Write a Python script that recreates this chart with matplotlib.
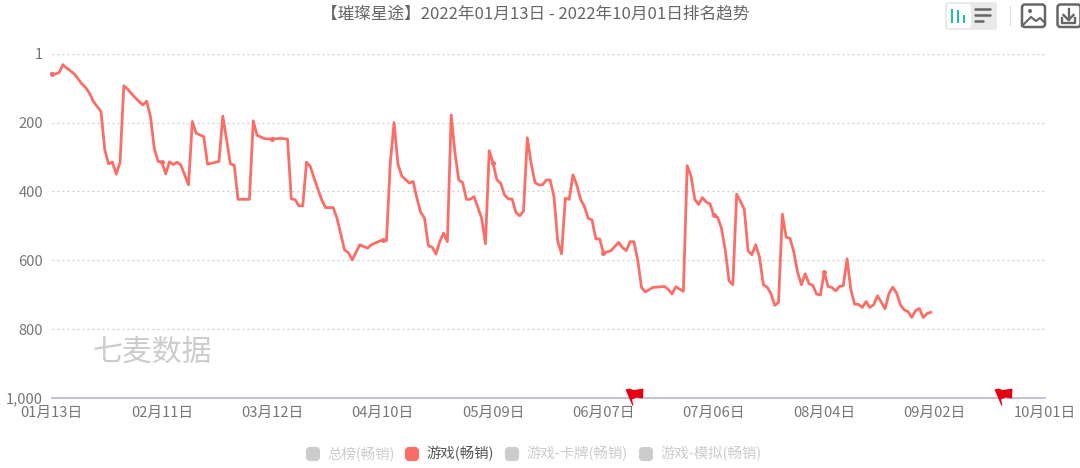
import numpy as np
import matplotlib
matplotlib.use("Agg")
import matplotlib.pyplot as plt
from matplotlib.patches import FancyBboxPatch, Rectangle, Circle
from matplotlib.path import Path

plt.rcParams["font.family"] = ["Noto Sans CJK SC", "DejaVu Sans"]

# days since 01-13, and rank on that day
days = [0, 1, 2, 3, 4, 5, 6, 8, 9, 10, 11, 13, 14, 15, 16, 17, 18, 19, 20, 21, 22, 23, 24, 25, 26, 27, 28, 29,
        30, 31, 32, 33, 34, 36, 37, 38, 40, 41, 44, 45, 47, 48, 49, 52, 53, 54, 56, 58, 60, 62, 63, 64, 65, 66,
        67, 68, 69, 71, 72, 74, 75, 77, 78, 79, 81, 83, 84, 85, 87, 88, 89, 90, 91, 92, 94, 95, 96, 97, 98, 99,
        100, 101, 102, 103, 104, 105, 106, 107, 108, 109, 110, 111, 113, 114, 115, 116, 117, 118, 119, 120,
        121, 122, 123, 124, 125, 126, 127, 128, 129, 130, 131, 132, 133, 134, 135, 136, 137, 138, 139, 140,
        141, 142, 143, 144, 145, 147, 149, 150, 151, 152, 153, 154, 155, 156, 158, 161, 162, 163, 164, 166,
        167, 168, 169, 170, 171, 172, 173, 174, 175, 176, 177, 178, 179, 180, 181, 182, 183, 184, 185, 186,
        187, 188, 189, 190, 191, 192, 193, 194, 195, 196, 197, 198, 199, 200, 201, 202, 203, 204, 205, 206,
        207, 208, 209, 210, 211, 212, 213, 214, 215, 216, 217, 219, 220, 221, 222, 223, 224, 225, 226, 227,
        228, 229, 230, 231]
ranks = [59, 59, 55, 32, 42, 50, 59, 88, 99, 115, 139, 168, 279, 320, 315, 350, 316, 93, 103, 116, 128, 139, 149,
         138, 183, 275, 313, 315, 349, 314, 322, 315, 324, 381, 197, 231, 241, 321, 313, 181, 320, 324, 423, 423,
         195, 237, 247, 248, 246, 248, 422, 424, 442, 442, 315, 328, 362, 425, 447, 447, 478, 570, 578, 599, 555,
         565, 555, 550, 541, 543, 318, 200, 320, 355, 376, 371, 420, 461, 478, 558, 562, 582, 546, 521, 546, 178,
         289, 367, 374, 423, 423, 415, 478, 552, 282, 318, 367, 376, 410, 422, 422, 461, 471, 457, 244, 318, 374,
         381, 381, 367, 367, 415, 546, 581, 420, 423, 352, 381, 423, 444, 478, 483, 538, 538, 579, 572, 548, 563,
         572, 546, 546, 599, 679, 692, 679, 676, 684, 698, 677, 690, 325, 355, 423, 438, 418, 431, 436, 470, 475,
         507, 570, 660, 671, 408, 429, 452, 573, 584, 555, 591, 671, 678, 697, 731, 722, 466, 533, 536, 575, 635,
         671, 639, 668, 673, 698, 701, 634, 676, 679, 689, 676, 674, 596, 686, 728, 728, 737, 720, 737, 729, 703,
         741, 697, 678, 695, 729, 744, 749, 766, 746, 740, 766, 755, 751]

x_ticks = [0, 29, 58, 87, 116, 145, 174, 203, 232, 261]
x_labels = ["01月13日", "02月11日", "03月12日", "04月10日", "05月09日", "06月07日", "07月06日", "08月04日", "09月02日", "10月01日"]
y_ticks = [1, 200, 400, 600, 800, 1000]
y_labels = ["1", "200", "400", "600", "800", "1,000"]
flag_days = [152, 249]
legend_names = ["总榜(畅销)", "游戏(畅销)", "游戏-卡牌(畅销)", "游戏-模拟(畅销)"]
legend_on = [False, True, False, False]
legend_x = [306, 405, 505, 639]

RED = "#fb6e68"
W, H = 1080, 468
fig = plt.figure(figsize=(W / 100, H / 100), dpi=100)
ax = fig.add_axes([51.5 / W, 1 - 398 / H, (1045 - 51.5) / W, (398 - 54) / H])
ax.set_xlim(0, 261)
ax.set_ylim(1000, 1)
ax.set_xticks(x_ticks, x_labels, fontsize=10.6, color="#777777")
ax.set_yticks(y_ticks, y_labels, fontsize=10.6, color="#777777")
ax.tick_params(length=0)
ax.tick_params(axis="x", pad=6)
ax.tick_params(axis="y", pad=6)
for s in ("top", "right", "left"):
    ax.spines[s].set_visible(False)
ax.spines["bottom"].set_color("#b4b8cf")
ax.spines["bottom"].set_linewidth(1.2)
ax.grid(True, axis="y", ls=(0, (1.5, 2.5)), lw=0.9, color="#cccccc")
ax.set_axisbelow(True)

d = np.array(days)
r = np.array(ranks)
ax.plot(d, r, color=RED, lw=2.0, solid_joinstyle="round", clip_on=False)
on_tick = d % 29 == 0
ax.plot(d[on_tick], r[on_tick], "o", color=RED, ms=3.6, mew=0, clip_on=False)

flag = Path([(-5, 9), (-1, 10), (3, 8.5), (7, 9), (13, 10), (12.5, 0), (6, 1), (1.5, -1), (3, -7), (1.8, -7), (-5, 9)])
ax.plot(flag_days, [1000] * len(flag_days), ls="", marker=flag, ms=18.7, color="#e60012", mew=0, clip_on=False, zorder=5)

# overlay in pixel coordinates for the title, legend and toolbar
ov = fig.add_axes([0, 0, 1, 1], zorder=6)
ov.set_xlim(0, W)
ov.set_ylim(H, 0)
ov.axis("off")
ov.patch.set_alpha(0)

ov.text(535, 14, "【璀璨星途】2022年01月13日 - 2022年10月01日排名趋势", ha="center", va="center", fontsize=12, color="#666666")
ov.text(93, 352, "七麦数据", ha="left", va="center", fontsize=21.5, color="#cccccc")

for name, on, lx in zip(legend_names, legend_on, legend_x):
    ov.add_patch(FancyBboxPatch((lx + 1, 448), 12, 12, boxstyle="round,pad=0,rounding_size=3", mutation_aspect=1,
                                fc=RED if on else "#cccccc", ec=RED if on else "#cccccc", lw=1.5))
    ov.text(lx + 21, 453.5, name, ha="left", va="center", fontsize=10.4, color="#555555" if on else "#cccccc")

# toolbar
ov.add_patch(FancyBboxPatch((945, 2), 52, 28, boxstyle="round,pad=0,rounding_size=4", fc="#e9e9e9", ec="none"))
ov.add_patch(FancyBboxPatch((947, 4), 24, 24, boxstyle="round,pad=0,rounding_size=3", fc="white", ec="none"))
for bx, top in zip((952, 958, 964), (9, 10, 15)):
    ov.add_patch(Rectangle((bx - 1.4, top), 2.8, 23 - top, fc="#1fbf9f", ec="none"))
for y0, x1 in zip((9, 15, 21), (990, 990, 983)):
    ov.plot([975, x1], [y0, y0], color="#666666", lw=1.8, solid_capstyle="round")
ov.plot([1009.5, 1009.5], [6, 25], color="#dddddd", lw=0.8)
ink = "#666666"
for ix in (1022, 1057.5):
    ov.add_patch(FancyBboxPatch((ix, 4.5), 23, 22.5, boxstyle="round,pad=0,rounding_size=3", fc="none", ec=ink, lw=1.8))
ov.add_patch(Circle((1030, 11), 2, fc=ink, ec="none"))
ov.plot([1022, 1031, 1036, 1040, 1045], [26, 17, 21, 18, 23], color=ink, lw=1.5)
ov.plot([1068.5, 1068.5], [9, 20], color=ink, lw=1.7)
ov.plot([1063.5, 1068.5, 1073.5], [15, 20, 15], color=ink, lw=1.7)
ov.plot([1062, 1062, 1075, 1075], [18, 23, 23, 18], color=ink, lw=1.7)

fig.savefig("out.png", dpi=100)
